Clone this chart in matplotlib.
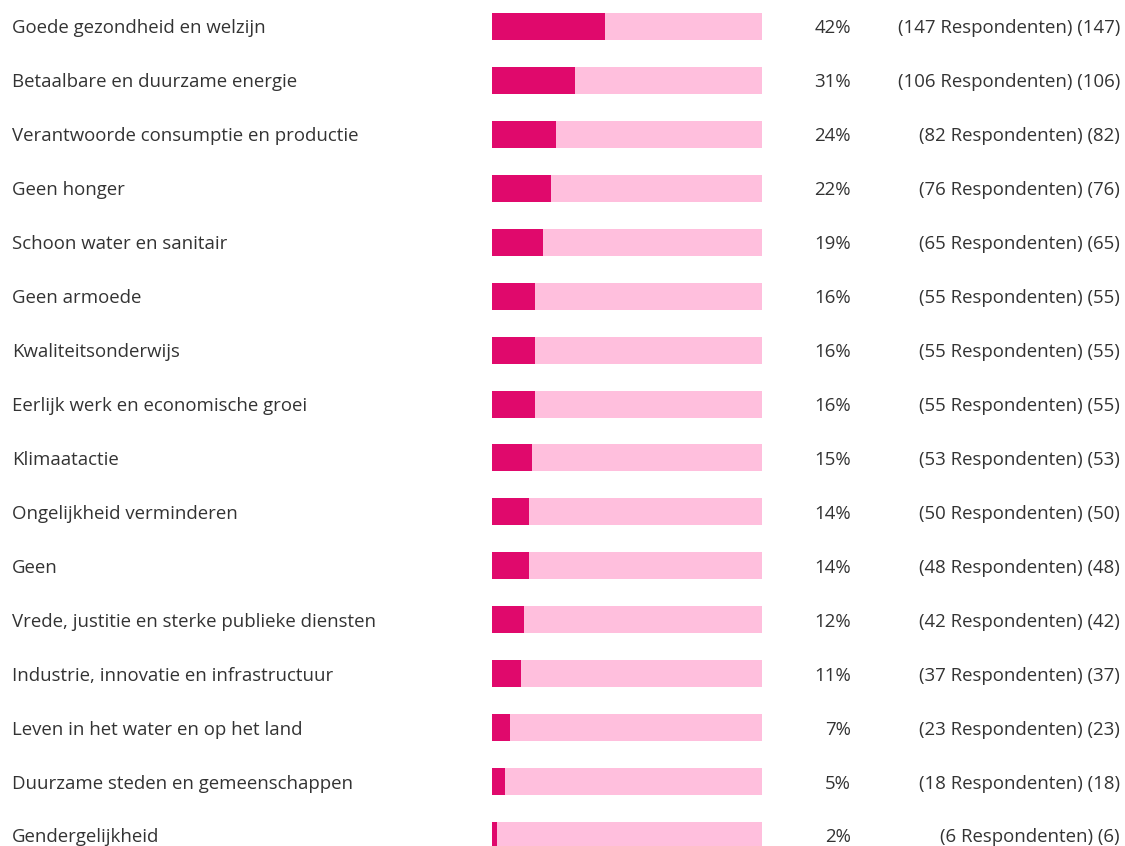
import matplotlib
matplotlib.use("Agg")
import matplotlib.pyplot as plt
from matplotlib.transforms import blended_transform_factory

categories = [
    "Goede gezondheid en welzijn",
    "Betaalbare en duurzame energie",
    "Verantwoorde consumptie en productie",
    "Geen honger",
    "Schoon water en sanitair",
    "Geen armoede",
    "Kwaliteitsonderwijs",
    "Eerlijk werk en economische groei",
    "Klimaatactie",
    "Ongelijkheid verminderen",
    "Geen",
    "Vrede, justitie en sterke publieke diensten",
    "Industrie, innovatie en infrastructuur",
    "Leven in het water en op het land",
    "Duurzame steden en gemeenschappen",
    "Gendergelijkheid",
]
percentages = [42, 31, 24, 22, 19, 16, 16, 16, 15, 14, 14, 12, 11, 7, 5, 2]
respondents = [147, 106, 82, 76, 65, 55, 55, 55, 53, 50, 48, 42, 37, 23, 18, 6]

W, H = 1125, 846
fig = plt.figure(figsize=(W / 100, H / 100), dpi=100)
plt.rcParams['font.family'] = ['Open Sans', 'DejaVu Sans']

row_h = 53.93
first_c = 26.5
x0, x1 = 491.5, 761.5
ax = fig.add_axes([x0 / W, 0, (x1 - x0) / W, 1])
ax.set_xlim(0, 100)
ax.set_ylim((H - first_c) / row_h, -first_c / row_h)
ax.axis('off')

dark = '#E0096C'
light = '#FFBFDD'
text_c = '#333333'
bh = 27 / row_h

ys = list(range(len(categories)))
ax.barh(ys, [100] * len(ys), height=bh, color=light, left=0)
ax.barh(ys, percentages, height=bh, color=dark, left=0)

tr = blended_transform_factory(fig.transFigure, ax.transData)
fs = 13.4
for i, (c, p, r) in enumerate(zip(categories, percentages, respondents)):
    ax.text(12 / W, i, c, transform=tr, ha='left', va='center_baseline', fontsize=fs, color=text_c)
    ax.text(851 / W, i, f"{p}%", transform=tr, ha='right', va='center_baseline', fontsize=fs, color=text_c)
    ax.text(1120 / W, i, f"({r} Respondenten) ({r})", transform=tr, ha='right', va='center_baseline',
            fontsize=fs, color=text_c)

fig.savefig("out.png", dpi=100)
